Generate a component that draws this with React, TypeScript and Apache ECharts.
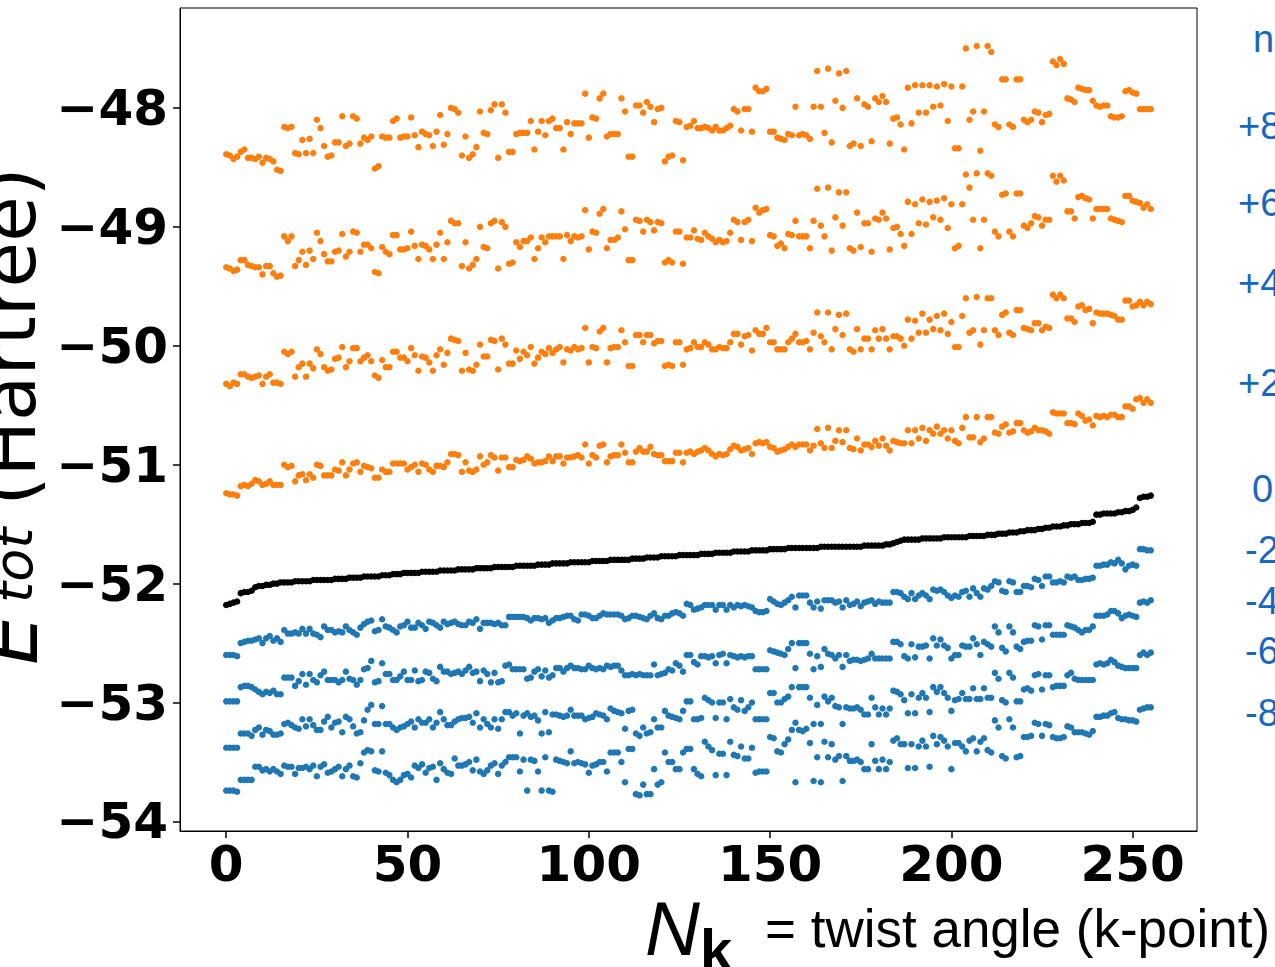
import React, { useEffect, useRef } from "react";
import * as echarts from "echarts";

// twist-angle index (k-point) 0..255
const K_POINTS: number[] = Array.from({ length: 256 }, (_, i) => i);
const X_TICKS = [0, 50, 100, 150, 200, 250];
const Y_TICKS = [-54, -53, -52, -51, -50, -49, -48];
const N_LABELS = ["n", "+8", "+6", "+4", "+2", "0", "-2", "-4", "-6", "-8"];

// E_tot (Hartree) for each electron-count offset n
const E_P8 = [
  -48.39,-48.40,-48.43,-48.41,-48.37,-48.35,-48.42,-48.42,-48.43,-48.41,-48.46,-48.42,-48.43,-48.45,-48.52,-48.53,
  -48.16,-48.17,-48.16,-48.38,-48.39,-48.27,-48.38,-48.26,-48.38,-48.10,-48.17,-48.32,-48.41,-48.40,-48.29,-48.29,
  -48.07,-48.32,-48.30,-48.07,-48.09,-48.30,-48.25,-48.27,-48.24,-48.51,-48.49,-48.24,-48.25,-48.25,-48.11,-48.09,
  -48.25,-48.24,-48.24,-48.08,-48.23,-48.33,-48.20,-48.22,-48.23,-48.32,-48.20,-48.06,-48.31,-48.22,-48.00,-48.01,
  -48.04,-48.40,-48.24,-48.42,-48.39,-48.33,-48.03,-48.21,-48.22,-48.02,-47.97,-48.42,-47.97,-48.04,-48.37,-48.37,
  -48.22,-48.21,-48.21,-48.21,-48.11,-48.35,-48.20,-48.11,-48.23,-48.11,-48.09,-48.17,-48.17,-48.35,-48.12,-48.22,
  -48.13,-48.13,-48.13,-47.88,-48.25,-48.08,-48.09,-47.92,-47.88,-48.24,-48.22,-48.22,-48.22,-47.92,-48.03,-48.41,
  -48.41,-47.98,-47.98,-48.04,-47.95,-47.99,-48.12,-48.01,-48.00,-48.45,-48.41,-48.40,-48.11,-48.12,-48.44,-48.16,
  -48.15,-48.11,-48.17,-48.17,-48.16,-48.17,-48.19,-48.16,-48.19,-48.19,-48.17,-48.15,-48.01,-48.03,-48.19,-48.01,
  -48.01,-48.20,-47.83,-47.86,-47.86,-47.84,-48.20,-48.20,-48.25,-48.26,-48.27,-48.22,-48.23,-47.99,-48.23,-48.22,
  -48.23,-48.26,-47.99,-47.69,-47.99,-48.21,-47.67,-48.29,-47.94,-47.71,-48.00,-47.69,-48.32,-48.30,-47.92,-48.32,
  -47.97,-47.99,-48.28,-47.92,-47.95,-47.90,-47.95,-48.30,-48.09,-48.08,-48.14,-48.35,-47.83,-48.13,-47.81,-48.04,
  -47.81,-48.04,-47.81,-47.99,-47.82,-47.98,-47.80,-48.11,-47.82,-48.34,-48.34,-47.82,-47.50,-48.10,-48.03,-47.48,
  -48.36,-48.03,-47.48,-47.53,-48.14,-48.16,-47.76,-47.76,-48.14,-48.16,-47.76,-47.76,-48.10,-48.12,-48.10,-48.03,
  -48.04,-48.12,-48.06,-48.05,-47.61,-47.64,-47.59,-47.63,-47.92,-47.93,-47.95,-47.83,-47.84,-47.85,-47.85,-47.94,
  -47.98,-47.99,-47.98,-47.98,-48.07,-48.08,-48.08,-48.07,-47.86,-47.85,-47.87,-47.88,-48.01,-48.01,-48.01,-48.01,
];

const E_P6 = [
  -49.34,-49.35,-49.37,-49.36,-49.28,-49.28,-49.32,-49.33,-49.34,-49.34,-49.40,-49.33,-49.33,-49.39,-49.42,-49.41,
  -49.08,-49.12,-49.08,-49.33,-49.28,-49.21,-49.32,-49.20,-49.27,-49.05,-49.12,-49.23,-49.29,-49.29,-49.21,-49.20,
  -49.06,-49.25,-49.21,-49.04,-49.05,-49.21,-49.15,-49.15,-49.18,-49.38,-49.39,-49.17,-49.21,-49.23,-49.07,-49.07,
  -49.19,-49.19,-49.18,-49.04,-49.16,-49.27,-49.15,-49.16,-49.19,-49.27,-49.15,-49.05,-49.27,-49.13,-48.95,-48.97,
  -48.97,-49.33,-49.13,-49.35,-49.32,-49.27,-49.00,-49.17,-49.18,-48.97,-48.95,-49.35,-48.96,-49.00,-49.31,-49.30,
  -49.13,-49.17,-49.12,-49.12,-49.09,-49.27,-49.18,-49.09,-49.13,-49.08,-49.08,-49.08,-49.08,-49.27,-49.07,-49.12,
  -49.08,-49.09,-49.08,-48.86,-49.19,-49.04,-49.05,-48.89,-48.85,-49.18,-49.11,-49.11,-49.09,-48.87,-49.02,-49.28,
  -49.28,-48.94,-48.95,-49.04,-48.94,-48.96,-49.03,-48.96,-48.97,-49.30,-49.28,-49.30,-49.04,-49.04,-49.31,-49.09,
  -49.09,-49.03,-49.10,-49.11,-49.05,-49.08,-49.10,-49.13,-49.11,-49.13,-49.12,-49.05,-48.94,-48.96,-49.11,-48.96,
  -48.94,-49.12,-48.84,-48.88,-48.86,-48.85,-49.07,-49.08,-49.16,-49.14,-49.18,-49.06,-49.07,-48.95,-49.08,-49.08,
  -49.08,-49.18,-48.95,-48.68,-48.99,-49.08,-48.67,-49.20,-48.92,-48.71,-48.99,-48.71,-49.18,-49.20,-48.88,-49.17,
  -48.97,-48.97,-49.21,-48.93,-48.94,-48.88,-48.93,-49.19,-49.01,-49.00,-49.06,-49.16,-48.79,-49.06,-48.81,-48.97,
  -48.77,-48.98,-48.79,-48.92,-48.78,-48.94,-48.76,-49.01,-48.81,-49.18,-49.16,-48.81,-48.56,-48.67,-48.94,-48.55,
  -49.18,-48.94,-48.55,-48.57,-49.04,-49.08,-48.73,-48.72,-49.04,-49.08,-48.72,-48.72,-48.99,-49.01,-48.97,-48.91,
  -48.92,-48.99,-48.94,-48.94,-48.57,-48.62,-48.57,-48.61,-48.87,-48.87,-48.93,-48.75,-48.74,-48.76,-48.77,-48.93,
  -48.85,-48.85,-48.85,-48.85,-48.93,-48.94,-48.95,-48.96,-48.74,-48.74,-48.78,-48.79,-48.80,-48.84,-48.81,-48.85,
];

const E_P4 = [
  -50.32,-50.34,-50.31,-50.32,-50.24,-50.24,-50.26,-50.27,-50.26,-50.25,-50.32,-50.26,-50.24,-50.31,-50.31,-50.32,
  -50.05,-50.07,-50.05,-50.26,-50.18,-50.15,-50.26,-50.15,-50.19,-50.03,-50.07,-50.18,-50.21,-50.20,-50.11,-50.10,
  -50.01,-50.18,-50.13,-50.02,-50.02,-50.13,-50.10,-50.08,-50.13,-50.25,-50.27,-50.12,-50.18,-50.18,-50.05,-50.05,
  -50.10,-50.10,-50.13,-50.02,-50.08,-50.21,-50.09,-50.10,-50.14,-50.21,-50.08,-50.03,-50.16,-50.06,-49.94,-49.95,
  -49.96,-50.21,-50.06,-50.20,-50.21,-50.16,-49.99,-50.09,-50.09,-49.95,-49.96,-50.20,-49.94,-49.99,-50.15,-50.15,
  -50.04,-50.11,-50.05,-50.08,-50.01,-50.15,-50.10,-50.05,-50.07,-50.02,-50.06,-50.03,-50.01,-50.14,-50.03,-50.04,
  -50.01,-50.03,-50.02,-49.85,-50.14,-50.01,-50.02,-49.88,-49.85,-50.14,-50.02,-50.01,-50.01,-49.87,-49.97,-50.17,
  -50.17,-49.91,-49.91,-49.97,-49.91,-49.91,-49.98,-49.96,-49.96,-50.17,-50.16,-50.17,-49.97,-49.97,-50.16,-50.03,
  -50.02,-49.97,-50.01,-50.01,-49.97,-49.99,-50.03,-50.03,-50.01,-50.02,-50.02,-49.97,-49.90,-49.90,-49.99,-49.92,
  -49.91,-50.04,-49.87,-49.90,-49.90,-49.85,-49.97,-49.97,-50.03,-50.03,-50.03,-49.97,-49.94,-49.90,-49.97,-49.97,
  -49.96,-50.03,-49.89,-49.72,-49.92,-49.97,-49.72,-50.03,-49.86,-49.74,-49.91,-49.73,-50.03,-50.05,-49.86,-50.03,
  -49.94,-49.94,-50.03,-49.87,-49.94,-49.86,-49.94,-50.03,-49.92,-49.92,-49.94,-50.00,-49.78,-49.94,-49.79,-49.89,
  -49.73,-49.89,-49.78,-49.86,-49.75,-49.87,-49.73,-49.90,-49.80,-50.01,-50.01,-49.75,-49.60,-49.89,-49.87,-49.59,
  -49.99,-49.87,-49.60,-49.60,-49.87,-49.91,-49.74,-49.72,-49.89,-49.91,-49.70,-49.70,-49.85,-49.86,-49.87,-49.81,
  -49.81,-49.87,-49.84,-49.85,-49.57,-49.60,-49.57,-49.60,-49.77,-49.77,-49.80,-49.67,-49.66,-49.70,-49.69,-49.81,
  -49.72,-49.73,-49.73,-49.73,-49.74,-49.75,-49.78,-49.78,-49.62,-49.62,-49.67,-49.66,-49.63,-49.66,-49.63,-49.65,
];

const E_P2 = [
  -51.24,-51.25,-51.25,-51.26,-51.18,-51.17,-51.18,-51.16,-51.13,-51.14,-51.17,-51.16,-51.14,-51.17,-51.17,-51.17,
  -51.00,-51.02,-51.01,-51.14,-51.09,-51.08,-51.13,-51.08,-51.11,-51.00,-51.01,-51.09,-51.09,-51.09,-51.04,-51.05,
  -50.98,-51.09,-51.04,-50.99,-50.98,-51.06,-51.01,-51.02,-51.03,-51.11,-51.11,-51.04,-51.06,-51.06,-50.99,-50.99,
  -50.99,-50.99,-51.04,-51.02,-51.00,-51.06,-50.99,-51.00,-51.04,-51.06,-51.01,-51.01,-51.02,-50.98,-50.91,-50.91,
  -50.92,-51.06,-50.98,-51.05,-51.06,-51.04,-50.93,-51.00,-50.98,-50.92,-50.94,-51.05,-50.94,-50.94,-51.02,-51.02,
  -50.96,-50.97,-50.96,-50.93,-50.95,-50.99,-50.98,-50.98,-50.97,-50.93,-50.97,-50.93,-50.93,-50.99,-50.94,-50.94,
  -50.93,-50.92,-50.94,-50.83,-50.99,-50.92,-50.94,-50.84,-50.83,-50.98,-50.93,-50.92,-50.92,-50.83,-50.90,-50.98,
  -50.98,-50.89,-50.86,-50.89,-50.89,-50.85,-50.91,-50.92,-50.92,-50.97,-50.97,-50.97,-50.90,-50.90,-50.98,-50.90,
  -50.89,-50.91,-50.89,-50.88,-50.86,-50.88,-50.91,-50.93,-50.91,-50.92,-50.91,-50.87,-50.84,-50.85,-50.88,-50.87,
  -50.86,-50.91,-50.82,-50.81,-50.82,-50.81,-50.85,-50.86,-50.89,-50.88,-50.87,-50.85,-50.83,-50.85,-50.83,-50.83,
  -50.83,-50.88,-50.84,-50.70,-50.82,-50.86,-50.69,-50.86,-50.80,-50.71,-50.81,-50.71,-50.86,-50.87,-50.78,-50.88,
  -50.83,-50.83,-50.85,-50.80,-50.84,-50.78,-50.84,-50.88,-50.80,-50.81,-50.82,-50.82,-50.71,-50.82,-50.71,-50.78,
  -50.69,-50.80,-50.71,-50.74,-50.68,-50.74,-50.71,-50.78,-50.71,-50.80,-50.82,-50.69,-50.60,-50.77,-50.77,-50.60,
  -50.81,-50.78,-50.60,-50.60,-50.73,-50.74,-50.68,-50.66,-50.73,-50.72,-50.65,-50.65,-50.71,-50.73,-50.72,-50.69,
  -50.71,-50.71,-50.72,-50.74,-50.56,-50.57,-50.57,-50.57,-50.65,-50.65,-50.66,-50.57,-50.59,-50.63,-50.62,-50.67,
  -50.59,-50.60,-50.59,-50.60,-50.58,-50.58,-50.60,-50.60,-50.51,-50.51,-50.53,-50.45,-50.44,-50.48,-50.45,-50.48,
];

const E_0 = [
  -52.18,-52.17,-52.16,-52.15,-52.08,-52.07,-52.07,-52.06,-52.03,-52.02,-52.02,-52.01,-52.01,-52.00,-52.00,-51.99,
  -51.99,-51.99,-51.99,-51.98,-51.98,-51.98,-51.98,-51.98,-51.97,-51.97,-51.97,-51.97,-51.97,-51.97,-51.96,-51.96,
  -51.96,-51.96,-51.95,-51.95,-51.95,-51.95,-51.94,-51.94,-51.94,-51.94,-51.94,-51.93,-51.93,-51.93,-51.92,-51.92,
  -51.92,-51.91,-51.91,-51.91,-51.91,-51.91,-51.90,-51.90,-51.90,-51.90,-51.90,-51.89,-51.89,-51.89,-51.89,-51.89,
  -51.88,-51.88,-51.88,-51.88,-51.88,-51.87,-51.87,-51.87,-51.87,-51.87,-51.86,-51.86,-51.86,-51.86,-51.86,-51.86,
  -51.85,-51.85,-51.85,-51.85,-51.85,-51.85,-51.84,-51.84,-51.84,-51.84,-51.83,-51.83,-51.83,-51.83,-51.83,-51.82,
  -51.82,-51.82,-51.82,-51.82,-51.82,-51.81,-51.81,-51.81,-51.81,-51.81,-51.80,-51.80,-51.80,-51.80,-51.80,-51.80,
  -51.79,-51.79,-51.79,-51.79,-51.78,-51.78,-51.78,-51.78,-51.77,-51.77,-51.77,-51.77,-51.77,-51.76,-51.76,-51.76,
  -51.76,-51.76,-51.76,-51.75,-51.75,-51.75,-51.75,-51.74,-51.74,-51.74,-51.74,-51.74,-51.73,-51.73,-51.73,-51.73,
  -51.73,-51.72,-51.72,-51.72,-51.72,-51.72,-51.71,-51.71,-51.71,-51.71,-51.71,-51.70,-51.70,-51.70,-51.70,-51.70,
  -51.70,-51.70,-51.70,-51.70,-51.69,-51.69,-51.69,-51.69,-51.69,-51.69,-51.69,-51.69,-51.69,-51.69,-51.69,-51.69,
  -51.68,-51.68,-51.68,-51.68,-51.68,-51.68,-51.67,-51.67,-51.66,-51.65,-51.64,-51.63,-51.63,-51.63,-51.63,-51.63,
  -51.62,-51.62,-51.62,-51.62,-51.62,-51.62,-51.61,-51.61,-51.61,-51.61,-51.61,-51.61,-51.61,-51.60,-51.60,-51.60,
  -51.60,-51.60,-51.59,-51.59,-51.59,-51.58,-51.58,-51.58,-51.57,-51.57,-51.57,-51.56,-51.56,-51.55,-51.55,-51.55,
  -51.54,-51.54,-51.53,-51.53,-51.52,-51.52,-51.52,-51.51,-51.51,-51.50,-51.50,-51.50,-51.49,-51.49,-51.49,-51.48,
  -51.42,-51.42,-51.41,-51.41,-51.41,-51.41,-51.40,-51.40,-51.39,-51.39,-51.38,-51.36,-51.28,-51.27,-51.27,-51.26,
];

const E_M2 = [
  -52.60,-52.60,-52.60,-52.61,-52.50,-52.49,-52.48,-52.48,-52.47,-52.46,-52.50,-52.46,-52.44,-52.48,-52.46,-52.49,
  -52.39,-52.42,-52.42,-52.41,-52.42,-52.38,-52.42,-52.38,-52.42,-52.43,-52.45,-52.36,-52.39,-52.39,-52.41,-52.40,
  -52.41,-52.36,-52.39,-52.41,-52.43,-52.37,-52.34,-52.32,-52.31,-52.40,-52.39,-52.30,-52.36,-52.37,-52.39,-52.41,
  -52.36,-52.35,-52.32,-52.37,-52.37,-52.33,-52.35,-52.38,-52.32,-52.33,-52.35,-52.37,-52.32,-52.34,-52.33,-52.32,
  -52.34,-52.35,-52.35,-52.32,-52.33,-52.30,-52.38,-52.33,-52.33,-52.33,-52.34,-52.33,-52.35,-52.35,-52.28,-52.28,
  -52.28,-52.28,-52.28,-52.29,-52.31,-52.29,-52.29,-52.30,-52.29,-52.33,-52.31,-52.29,-52.29,-52.28,-52.27,-52.27,
  -52.30,-52.31,-52.26,-52.26,-52.27,-52.29,-52.29,-52.27,-52.25,-52.26,-52.26,-52.26,-52.26,-52.27,-52.30,-52.29,
  -52.27,-52.27,-52.28,-52.29,-52.30,-52.27,-52.25,-52.29,-52.30,-52.27,-52.27,-52.25,-52.24,-52.25,-52.27,-52.17,
  -52.18,-52.22,-52.21,-52.20,-52.18,-52.18,-52.18,-52.22,-52.18,-52.18,-52.22,-52.18,-52.20,-52.18,-52.19,-52.18,
  -52.19,-52.20,-52.23,-52.24,-52.24,-52.23,-52.13,-52.15,-52.17,-52.18,-52.16,-52.14,-52.11,-52.20,-52.10,-52.10,
  -52.10,-52.16,-52.20,-52.15,-52.21,-52.14,-52.14,-52.14,-52.16,-52.15,-52.20,-52.14,-52.18,-52.17,-52.15,-52.19,
  -52.16,-52.15,-52.14,-52.17,-52.15,-52.16,-52.16,-52.16,-52.07,-52.07,-52.08,-52.11,-52.13,-52.08,-52.13,-52.10,
  -52.08,-52.10,-52.13,-52.05,-52.06,-52.05,-52.07,-52.10,-52.12,-52.10,-52.11,-52.07,-52.06,-52.11,-52.04,-52.08,
  -52.11,-52.04,-52.05,-52.02,-51.98,-51.99,-52.06,-52.07,-51.98,-51.99,-52.07,-52.07,-52.02,-52.02,-52.03,-51.96,
  -51.97,-52.02,-51.94,-51.94,-51.99,-51.99,-51.98,-51.99,-51.94,-51.95,-51.94,-51.97,-51.97,-51.96,-51.96,-51.95,
  -51.85,-51.85,-51.84,-51.84,-51.82,-51.83,-51.80,-51.83,-51.88,-51.85,-51.84,-51.85,-51.71,-51.71,-51.72,-51.72,
];

const E_M4 = [
  -52.99,-52.99,-52.99,-52.99,-52.87,-52.86,-52.86,-52.87,-52.89,-52.91,-52.93,-52.91,-52.92,-52.90,-52.93,-52.93,
  -52.79,-52.79,-52.79,-52.86,-52.82,-52.76,-52.85,-52.76,-52.81,-52.83,-52.77,-52.74,-52.81,-52.81,-52.81,-52.83,
  -52.81,-52.74,-52.80,-52.81,-52.85,-52.81,-52.72,-52.71,-52.65,-52.83,-52.82,-52.67,-52.76,-52.76,-52.81,-52.81,
  -52.78,-52.74,-52.81,-52.81,-52.73,-52.82,-52.81,-52.74,-52.75,-52.80,-52.82,-52.70,-52.74,-52.74,-52.76,-52.75,
  -52.74,-52.76,-52.73,-52.70,-52.75,-52.74,-52.82,-52.73,-52.76,-52.83,-52.75,-52.83,-52.82,-52.69,-52.68,-52.72,
  -52.72,-52.72,-52.72,-52.80,-52.79,-52.74,-52.72,-52.78,-52.73,-52.79,-52.77,-52.71,-52.71,-52.74,-52.71,-52.69,
  -52.71,-52.71,-52.72,-52.72,-52.69,-52.71,-52.72,-52.71,-52.72,-52.69,-52.70,-52.69,-52.69,-52.73,-52.77,-52.77,
  -52.76,-52.77,-52.76,-52.77,-52.77,-52.77,-52.68,-52.77,-52.76,-52.75,-52.72,-52.73,-52.67,-52.69,-52.74,-52.60,
  -52.60,-52.66,-52.68,-52.61,-52.61,-52.62,-52.61,-52.67,-52.60,-52.59,-52.67,-52.60,-52.61,-52.62,-52.61,-52.62,
  -52.61,-52.61,-52.72,-52.72,-52.72,-52.72,-52.56,-52.57,-52.58,-52.59,-52.60,-52.55,-52.50,-52.71,-52.50,-52.50,
  -52.50,-52.59,-52.72,-52.61,-52.70,-52.55,-52.59,-52.60,-52.63,-52.60,-52.70,-52.60,-52.65,-52.64,-52.64,-52.65,
  -52.64,-52.63,-52.59,-52.63,-52.63,-52.63,-52.63,-52.63,-52.49,-52.49,-52.51,-52.61,-52.63,-52.51,-52.62,-52.53,
  -52.53,-52.52,-52.63,-52.46,-52.52,-52.47,-52.52,-52.54,-52.63,-52.60,-52.60,-52.52,-52.53,-52.53,-52.46,-52.51,
  -52.60,-52.49,-52.51,-52.53,-52.36,-52.41,-52.54,-52.57,-52.36,-52.41,-52.53,-52.55,-52.49,-52.48,-52.48,-52.35,
  -52.36,-52.47,-52.35,-52.35,-52.43,-52.43,-52.43,-52.43,-52.35,-52.36,-52.37,-52.39,-52.41,-52.39,-52.39,-52.36,
  -52.27,-52.27,-52.27,-52.26,-52.23,-52.23,-52.25,-52.29,-52.27,-52.26,-52.27,-52.28,-52.16,-52.15,-52.16,-52.14,
];

const E_M6 = [
  -53.38,-53.38,-53.38,-53.38,-53.26,-53.26,-53.26,-53.28,-53.23,-53.21,-53.27,-53.23,-53.24,-53.27,-53.27,-53.26,
  -53.18,-53.17,-53.19,-53.21,-53.22,-53.14,-53.20,-53.14,-53.19,-53.23,-53.23,-53.16,-53.12,-53.21,-53.17,-53.16,
  -53.25,-53.12,-53.14,-53.20,-53.26,-53.25,-53.15,-53.06,-53.02,-53.18,-53.18,-53.03,-53.18,-53.18,-53.21,-53.23,
  -53.21,-53.20,-53.18,-53.16,-53.21,-53.14,-53.17,-53.17,-53.14,-53.21,-53.17,-53.08,-53.14,-53.19,-53.19,-53.16,
  -53.14,-53.13,-53.13,-53.12,-53.17,-53.09,-53.21,-53.14,-53.18,-53.21,-53.14,-53.22,-53.14,-53.08,-53.08,-53.11,
  -53.09,-53.26,-53.11,-53.09,-53.12,-53.11,-53.15,-53.26,-53.08,-53.25,-53.10,-53.10,-53.11,-53.12,-53.11,-53.06,
  -53.11,-53.11,-53.11,-53.14,-53.13,-53.12,-53.09,-53.10,-53.11,-53.14,-53.05,-53.07,-53.08,-53.09,-53.22,-53.07,
  -53.06,-53.26,-53.28,-53.21,-53.26,-53.25,-53.14,-53.21,-53.21,-53.07,-53.11,-53.12,-53.13,-53.14,-53.07,-52.99,
  -52.99,-53.14,-53.14,-53.13,-52.96,-52.98,-53.00,-53.13,-53.00,-53.00,-53.14,-52.97,-53.04,-53.06,-52.98,-53.07,
  -53.04,-53.00,-53.14,-53.14,-53.14,-53.14,-52.92,-52.92,-53.00,-53.00,-52.97,-52.95,-52.87,-53.17,-52.87,-52.87,
  -52.87,-52.96,-53.18,-53.02,-53.18,-52.95,-52.99,-52.96,-53.03,-53.04,-53.18,-53.04,-53.05,-53.05,-53.04,-53.06,
  -53.10,-53.10,-52.96,-53.04,-53.10,-53.05,-53.10,-53.05,-52.90,-52.91,-52.93,-52.98,-53.09,-52.93,-53.09,-52.96,
  -52.92,-52.96,-53.08,-52.87,-52.91,-52.87,-52.92,-52.96,-53.07,-52.98,-52.97,-52.92,-52.97,-52.97,-52.88,-52.97,
  -52.97,-52.88,-52.96,-52.96,-52.75,-52.80,-52.98,-53.00,-52.75,-52.79,-52.99,-52.99,-52.89,-52.88,-52.90,-52.77,
  -52.76,-52.89,-52.77,-52.77,-52.87,-52.86,-52.86,-52.86,-52.77,-52.75,-52.80,-52.81,-52.81,-52.81,-52.81,-52.81,
  -52.68,-52.67,-52.68,-52.67,-52.64,-52.66,-52.69,-52.70,-52.71,-52.71,-52.71,-52.71,-52.60,-52.58,-52.60,-52.58,
];

const E_M8 = [
  -53.74,-53.74,-53.74,-53.75,-53.65,-53.65,-53.65,-53.65,-53.54,-53.54,-53.57,-53.56,-53.58,-53.56,-53.58,-53.60,
  -53.53,-53.54,-53.54,-53.60,-53.55,-53.55,-53.54,-53.56,-53.53,-53.62,-53.54,-53.52,-53.59,-53.58,-53.56,-53.54,
  -53.62,-53.56,-53.53,-53.62,-53.63,-53.51,-53.42,-53.40,-53.41,-53.57,-53.58,-53.41,-53.59,-53.61,-53.65,-53.67,
  -53.65,-53.61,-53.60,-53.63,-53.53,-53.55,-53.52,-53.59,-53.55,-53.54,-53.65,-53.51,-53.56,-53.59,-53.60,-53.47,
  -53.53,-53.53,-53.52,-53.50,-53.57,-53.48,-53.58,-53.60,-53.57,-53.53,-53.51,-53.60,-53.53,-53.50,-53.46,-53.46,
  -53.46,-53.58,-53.48,-53.74,-53.48,-53.49,-53.58,-53.74,-53.46,-53.74,-53.75,-53.48,-53.49,-53.50,-53.51,-53.41,
  -53.51,-53.50,-53.51,-53.52,-53.59,-53.53,-53.52,-53.50,-53.50,-53.58,-53.42,-53.42,-53.42,-53.50,-53.67,-53.39,
  -53.39,-53.77,-53.78,-53.69,-53.77,-53.77,-53.56,-53.69,-53.67,-53.42,-53.50,-53.50,-53.56,-53.56,-53.42,-53.39,
  -53.39,-53.56,-53.60,-53.62,-53.33,-53.37,-53.40,-53.61,-53.43,-53.43,-53.61,-53.33,-53.44,-53.45,-53.37,-53.47,
  -53.47,-53.38,-53.59,-53.58,-53.58,-53.58,-53.29,-53.30,-53.41,-53.42,-53.35,-53.31,-53.23,-53.67,-53.23,-53.24,
  -53.22,-53.34,-53.66,-53.46,-53.67,-53.33,-53.46,-53.35,-53.48,-53.45,-53.66,-53.45,-53.49,-53.49,-53.48,-53.50,
  -53.56,-53.56,-53.35,-53.49,-53.56,-53.48,-53.56,-53.50,-53.32,-53.30,-53.35,-53.35,-53.55,-53.35,-53.55,-53.37,
  -53.32,-53.37,-53.54,-53.28,-53.35,-53.29,-53.32,-53.37,-53.56,-53.34,-53.34,-53.37,-53.41,-53.32,-53.30,-53.41,
  -53.33,-53.30,-53.40,-53.42,-53.15,-53.21,-53.45,-53.47,-53.14,-53.21,-53.46,-53.45,-53.29,-53.29,-53.28,-53.17,
  -53.18,-53.28,-53.18,-53.19,-53.29,-53.30,-53.30,-53.29,-53.20,-53.21,-53.25,-53.25,-53.25,-53.26,-53.27,-53.24,
  -53.12,-53.12,-53.11,-53.11,-53.09,-53.08,-53.13,-53.14,-53.14,-53.15,-53.15,-53.16,-53.06,-53.05,-53.04,-53.04,
];

const ORANGE = "#ff7f0e";
const BLUE = "#1f77b4";
const BLACK = "#000000";

const SERIES_DEF: { name: string; values: number[]; color: string }[] = [
  { name: "+8", values: E_P8, color: ORANGE },
  { name: "+6", values: E_P6, color: ORANGE },
  { name: "+4", values: E_P4, color: ORANGE },
  { name: "+2", values: E_P2, color: ORANGE },
  { name: "0", values: E_0, color: BLACK },
  { name: "-2", values: E_M2, color: BLUE },
  { name: "-4", values: E_M4, color: BLUE },
  { name: "-6", values: E_M6, color: BLUE },
  { name: "-8", values: E_M8, color: BLUE },
];

// pixel layout of the annotation column on the right edge
const LABEL_POS: { x: number; y: number }[] = [
  { x: 1253, y: 39 },
  { x: 1238, y: 126 },
  { x: 1238, y: 203 },
  { x: 1238, y: 283 },
  { x: 1238, y: 383 },
  { x: 1252, y: 489 },
  { x: 1245, y: 550 },
  { x: 1245, y: 601 },
  { x: 1245, y: 651 },
  { x: 1245, y: 713 },
];

export default function App() {
  const ref = useRef<HTMLDivElement>(null);

  useEffect(() => {
    if (!ref.current) return;
    const chart = echarts.init(ref.current, null, { renderer: "svg" });

    const labelFont = '38px "Liberation Sans", Arial, sans-serif';
    const rightLabels = N_LABELS.map((t, i) => ({
      type: "text",
      x: LABEL_POS[i].x,
      y: LABEL_POS[i].y,
      silent: true,
      style: {
        text: t,
        font: labelFont,
        fill: "#1767c2",
        textAlign: "left",
        textVerticalAlign: "middle",
      },
    }));

    const option: any = {
      animation: false,
      backgroundColor: "#ffffff",
      grid: {
        left: 180,
        top: 8,
        width: 1017,
        height: 823,
        show: true,
        borderColor: "#000",
        borderWidth: 1,
        backgroundColor: "transparent",
      },
      xAxis: {
        type: "value",
        min: -12.75,
        max: 267.75,
        axisLine: { show: true, onZero: false, lineStyle: { color: "#000", width: 1 } },
        axisTick: {
          show: true,
          length: 7,
          inside: false,
          customValues: X_TICKS,
          lineStyle: { color: "#000", width: 1.5 },
        },
        axisLabel: {
          customValues: X_TICKS,
          color: "#000",
          fontFamily: '"DejaVu Sans"',
          fontWeight: "bold",
          fontSize: 50,
          margin: 8,
        },
        splitLine: { show: false },
      },
      yAxis: {
        type: "value",
        min: -54.08,
        max: -47.16,
        axisLine: { show: true, onZero: false, lineStyle: { color: "#000", width: 1 } },
        axisTick: {
          show: true,
          length: 7,
          inside: false,
          customValues: Y_TICKS,
          lineStyle: { color: "#000", width: 1.5 },
        },
        axisLabel: {
          customValues: Y_TICKS,
          color: "#000",
          fontFamily: '"DejaVu Sans"',
          fontWeight: "bold",
          fontSize: 50,
          margin: 12,
          formatter: (v: number) => String(v).replace("-", "\u2212"),
        },
        splitLine: { show: false },
      },
      series: SERIES_DEF.map((s) => ({
        type: "scatter",
        name: s.name,
        symbol: "circle",
        symbolSize: 6.5,
        silent: true,
        itemStyle: { color: s.color, opacity: 1 },
        data: s.values.map((v, i) => [K_POINTS[i], v]),
      })),
      graphic: [
        // y-axis label, rotated, partly beyond the page's left edge as in the reference
        {
          type: "group",
          x: 9,
          y: 665,
          rotation: Math.PI / 2,
          silent: true,
          children: [
            {
              type: "text",
              x: 0,
              y: 0,
              style: {
                text: "E",
                font: 'italic 80px "DejaVu Sans"',
                fill: "#000",
                textAlign: "left",
                textVerticalAlign: "middle",
              },
            },
            {
              type: "text",
              x: 62,
              y: 4,
              style: {
                text: "tot",
                font: 'italic 54px "DejaVu Sans"',
                fill: "#000",
                textAlign: "left",
                textVerticalAlign: "middle",
              },
            },
            {
              type: "text",
              x: 136,
              y: 0,
              style: {
                text: " (Hartree)",
                font: '74px "DejaVu Sans"',
                fill: "#000",
                textAlign: "left",
                textVerticalAlign: "middle",
              },
            },
          ],
        },
        // x-axis label
        {
          type: "text",
          x: 645,
          y: 928,
          silent: true,
          style: {
            text: "N",
            font: 'italic 76px "Liberation Sans"',
            fill: "#000",
            textAlign: "left",
            textVerticalAlign: "middle",
          },
        },
        {
          type: "text",
          x: 700,
          y: 949,
          silent: true,
          style: {
            text: "k",
            font: 'bold 58px "Liberation Sans"',
            fill: "#000",
            textAlign: "left",
            textVerticalAlign: "middle",
          },
        },
        {
          type: "text",
          x: 765,
          y: 928,
          silent: true,
          style: {
            text: "= twist angle (k-point)",
            font: '53px "Liberation Sans"',
            fill: "#000",
            textAlign: "left",
            textVerticalAlign: "middle",
          },
        },
        ...rightLabels,
      ],
    };

    chart.setOption(option);
    return () => chart.dispose();
  }, []);

  return (
    <div
      ref={ref}
      style={{ position: "absolute", left: 0, top: 0, width: 1275, height: 967 }}
    />
  );
}
